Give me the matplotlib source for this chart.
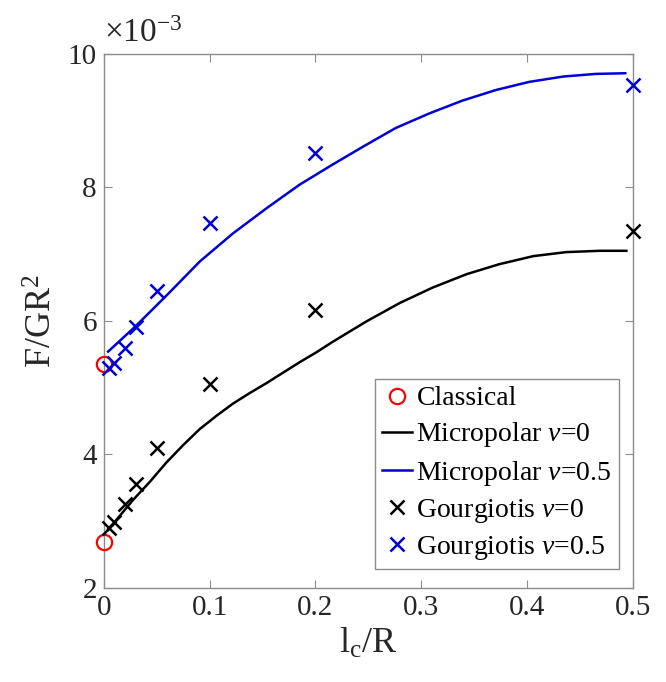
import numpy as np
import matplotlib
matplotlib.use('Agg')
import matplotlib.pyplot as plt

# all F/GR^2 values are in units of 1e-3
# classical solution (lc/R = 0)
xClassical = [0.0, 0.0]
yClassical = [5.35, 2.68]

# micropolar curves
xMicro0 = [0.004, 0.0198, 0.0277, 0.0435, 0.0592, 0.075, 0.0907, 0.1066,
           0.122, 0.138, 0.154, 0.170, 0.185, 0.201, 0.2167, 0.248, 0.280,
           0.311, 0.343, 0.374, 0.406, 0.437, 0.469, 0.494]
yMicro0 = [2.87, 3.17, 3.32, 3.59, 3.88, 4.14, 4.38, 4.58,
           4.76, 4.92, 5.07, 5.23, 5.38, 5.53, 5.69, 5.99, 6.27,
           6.50, 6.70, 6.85, 6.97, 7.03, 7.05, 7.05]

xMicro05 = [0.004, 0.0293, 0.0592, 0.0907, 0.122, 0.154, 0.185, 0.215,
            0.245, 0.276, 0.308, 0.339, 0.371, 0.402, 0.434, 0.465, 0.493]
yMicro05 = [5.54, 5.91, 6.38, 6.89, 7.31, 7.69, 8.04, 8.33,
            8.61, 8.89, 9.11, 9.30, 9.46, 9.58, 9.66, 9.70, 9.71]

# Gourgiotis results
xGour = [0.005, 0.01, 0.02, 0.03, 0.05, 0.1, 0.2, 0.5]
yGour0 = [2.89, 2.99, 3.25, 3.55, 4.10, 5.06, 6.16, 7.34]
yGour05 = [5.29, 5.37, 5.60, 5.91, 6.45, 7.47, 8.52, 9.54]

plt.rcParams['font.family'] = ['Liberation Serif', 'DejaVu Serif']
plt.rcParams['mathtext.fontset'] = 'custom'
plt.rcParams['mathtext.it'] = 'Liberation Serif:italic'
plt.rcParams['mathtext.rm'] = 'Liberation Serif'

fig = plt.figure(figsize=(6.66, 6.82), dpi=100)
ax = fig.add_axes([0.156, 0.138, 0.794, 0.783])

blue = (0, 0, 0.85)
txt = (0.15, 0.15, 0.15)
gray = (0.55, 0.55, 0.55)

ax.plot(xClassical, yClassical, 'o', color='red', mfc='none', ms=11, mew=1.6,
        label='Classical', clip_on=False, zorder=5)
ax.plot(xMicro0, yMicro0, '-', color='black', lw=1.8, label=r'Micropolar $\nu$=0')
ax.plot(xMicro05, yMicro05, '-', color=blue, lw=1.8,
        label=r'Micropolar $\nu$=0.5')
ax.plot(xGour, yGour0, 'x', color='black', ms=10, mew=1.8,
        label=r'Gourgiotis $\nu$=0', clip_on=False, zorder=5)
ax.plot(xGour, yGour05, 'x', color=blue, ms=10, mew=1.8,
        label=r'Gourgiotis $\nu$=0.5', clip_on=False, zorder=5)

ax.set_xlim(0, 0.5)
ax.set_ylim(2, 10)
ax.set_xticks([0, 0.1, 0.2, 0.3, 0.4, 0.5])
ax.set_xticklabels(['0', '0.1', '0.2', '0.3', '0.4', '0.5'])
ax.set_yticks([2, 4, 6, 8, 10])

for s in ax.spines.values():
    s.set_color(gray)
    s.set_linewidth(1.0)
ax.tick_params(direction='in', top=True, right=True, length=6, width=0.8,
               color=gray, labelsize=21, labelcolor=txt, pad=5)

ax.set_xlabel(r'l$_\mathrm{c}$/R', fontsize=26, color=txt, labelpad=4)
ax.set_ylabel(r'F/GR$^2$', fontsize=26, color=txt, labelpad=6)
ax.text(0.0, 1.01, r'$\times$10$^{\mathrm{-3}}$', transform=ax.transAxes,
        fontsize=24, color=txt, ha='left', va='bottom')

leg = ax.legend(loc='lower right', bbox_to_anchor=(0.9735, 0.0356), fontsize=20,
                handlelength=1.1, handletextpad=0.15, borderpad=0.25,
                borderaxespad=0, labelspacing=0.33, fancybox=False,
                framealpha=1)
leg.get_frame().set_edgecolor(gray)
leg.get_frame().set_linewidth(1.0)

fig.savefig('out.png', dpi=100)
